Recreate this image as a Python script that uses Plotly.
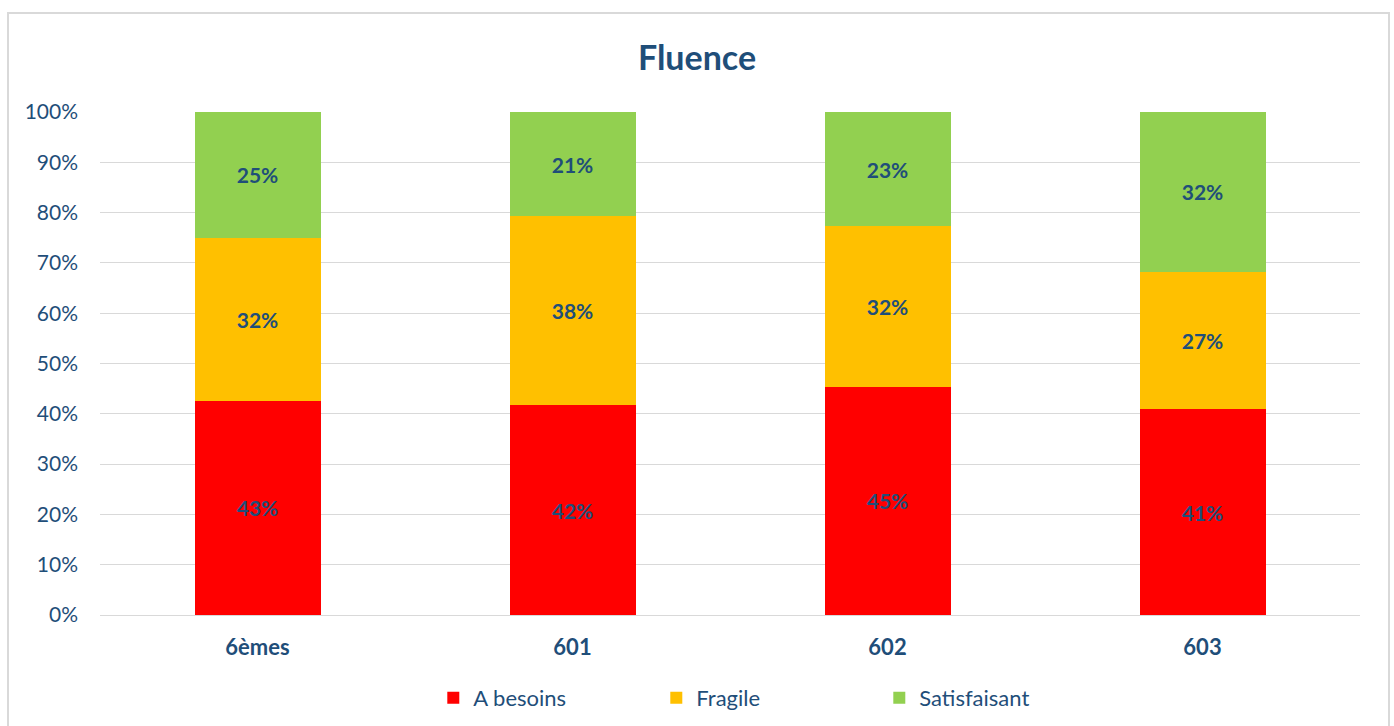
import plotly.graph_objects as go

categories = ["6èmes", "601", "602", "603"]
a_besoins = [0.426, 0.417, 0.454, 0.409]
fragile = [0.324, 0.376, 0.319, 0.273]
satisfaisant = [0.250, 0.207, 0.227, 0.318]

series = [
    ("A besoins", a_besoins, "#FF0000"),
    ("Fragile", fragile, "#FFC000"),
    ("Satisfaisant", satisfaisant, "#92D050"),
]

text_color = "#1F4E79"
font_family = "Lato, 'Open Sans', sans-serif"

fig = go.Figure()
for name, vals, col in series:
    fig.add_trace(go.Bar(
        x=categories, y=vals, name=name,
        marker=dict(color=col, line=dict(width=0)),
        texttemplate="%{y:.0%}", textposition="inside",
        insidetextanchor="middle",
        textfont=dict(family=font_family, size=21, color=text_color, weight="bold"),
        hoverinfo="skip",
    ))

fig.update_layout(
    barmode="stack",
    bargap=0.6,
    width=1394, height=726,
    margin=dict(l=100, r=34, t=112, b=111, autoexpand=False),
    paper_bgcolor="white", plot_bgcolor="white",
    title=dict(text="<b>Fluence</b>", x=0.5, xanchor="center",
               y=1 - 58 / 726, yanchor="middle", yref="container",
               font=dict(family=font_family, size=34, color=text_color)),
    font=dict(family=font_family, color=text_color),
    uniformtext=dict(mode=False),
    legend=dict(orientation="h", x=0.53, xanchor="center", y=-0.165, yanchor="middle",
                font=dict(family=font_family, size=22, color=text_color),
                entrywidth=178, entrywidthmode="pixels", traceorder="normal",
                itemwidth=30),
    showlegend=True,
)
fig.update_xaxes(showgrid=False, showline=True, linecolor="#d9d9d9", linewidth=1,
                 tickfont=dict(family=font_family, size=22, color=text_color, weight="bold"),
                 ticks="", ticklabelstandoff=13, automargin=False)
fig.update_yaxes(range=[0, 1], dtick=0.1, tickformat=".0%", showgrid=True,
                 gridcolor="#d9d9d9", gridwidth=1, zeroline=False, showline=False,
                 tickfont=dict(family=font_family, size=21, color=text_color),
                 ticks="", ticklabelstandoff=21, automargin=False)

fig.add_shape(type="rect", xref="paper", yref="paper",
              x0=(8 - 100) / 1260, x1=(1389 - 100) / 1260,
              y0=(615 - 740) / 503, y1=(615 - 13) / 503,
              line=dict(color="#d9d9d9", width=2), fillcolor="rgba(0,0,0,0)", layer="below")

html = fig.to_html(include_plotlyjs=True, full_html=True, config={"displayModeBar": False})
html = html.replace("<head>", "<head><style>html,body{margin:0;padding:0;overflow:hidden;}</style>", 1)
with open("out.html", "w", encoding="utf-8") as f:
    f.write(html)
